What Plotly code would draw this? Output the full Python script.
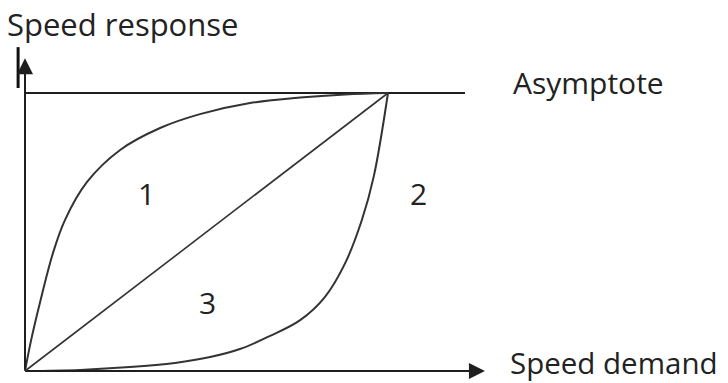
import plotly.graph_objects as go

# Data (normalised units: speed demand on x, speed response on y; 1 = asymptote)
curve1_x = [0, 0.017, 0.041, 0.077, 0.110, 0.171, 0.262, 0.372, 0.482, 0.620, 0.758, 0.882, 1.0]
curve1_y = [0, 0.112, 0.245, 0.424, 0.543, 0.680, 0.795, 0.874, 0.924, 0.964, 0.984, 0.995, 1.0]

curve3_x = [0, 0.152, 0.289, 0.413, 0.510, 0.592, 0.675, 0.758, 0.826, 0.882, 0.928, 0.961, 1.0]
curve3_y = [0, 0.004, 0.014, 0.029, 0.050, 0.079, 0.126, 0.183, 0.266, 0.388, 0.543, 0.701, 1.0]

linear_x = [0, 1.0]
linear_y = [0, 1.0]

asymptote_level = 1.0
asymptote_end = 1.212
x_axis_end = 1.267
y_axis_end = 1.125

region_labels = ["1", "2", "3"]
region_x = [0.336, 1.083, 0.504]
region_y = [0.640, 0.640, 0.248]

line_col = "#1e1e1e"
curve_col = "#333333"
font_fam = "Open Sans"
font_size = 30

fig = go.Figure()

fig.add_trace(go.Scatter(x=[0, asymptote_end], y=[asymptote_level, asymptote_level], mode="lines",
                         line=dict(color=line_col, width=1.8), hoverinfo="skip"))
fig.add_trace(go.Scatter(x=curve1_x, y=curve1_y, mode="lines",
                         line=dict(color=curve_col, width=2, shape="spline", smoothing=1.0), hoverinfo="skip"))
fig.add_trace(go.Scatter(x=curve3_x, y=curve3_y, mode="lines",
                         line=dict(color=curve_col, width=2, shape="spline", smoothing=1.0), hoverinfo="skip"))
fig.add_trace(go.Scatter(x=linear_x, y=linear_y, mode="lines", line=dict(color=curve_col, width=1.6), hoverinfo="skip"))

# axes with arrow heads
fig.add_annotation(x=x_axis_end, y=0, ax=0, ay=0, xref="x", yref="y", axref="x", ayref="y",
                   showarrow=True, arrowhead=2, arrowsize=1.6, arrowwidth=2, arrowcolor=line_col, text="")
fig.add_annotation(x=0, y=y_axis_end, ax=0, ay=0, xref="x", yref="y", axref="x", ayref="y",
                   showarrow=True, arrowhead=2, arrowsize=1.6, arrowwidth=2, arrowcolor=line_col, text="")
# small stray stroke beside the y-axis arrow, as in the source drawing
fig.add_shape(type="line", xref="x", yref="y", x0=-0.019, x1=-0.019, y0=1.018, y1=1.165,
              line=dict(color="#111", width=3))

for t, xx, yy in zip(region_labels, region_x, region_y):
    fig.add_annotation(x=xx, y=yy, text=t, showarrow=False, xref="x", yref="y",
                       font=dict(family=font_fam, size=font_size, color="#222"))

fig.add_annotation(x=6/728, y=1-24/383, xref="paper", yref="paper", xanchor="left", yanchor="middle",
                   text="Speed response", showarrow=False, borderpad=0,
                   font=dict(family=font_fam, size=31, color="#222"))
fig.add_annotation(x=511/728, y=1-83/383, xref="paper", yref="paper", xanchor="left", yanchor="middle",
                   text="Asymptote", showarrow=False, font=dict(family=font_fam, size=font_size, color="#222"))
fig.add_annotation(x=719/728, y=1-362/383, xref="paper", yref="paper", xanchor="right", yanchor="middle",
                   text="Speed demand", showarrow=False, borderpad=0,
                   font=dict(family=font_fam, size=29.5, color="#222"))

fig.update_layout(
    width=728, height=383, margin=dict(l=0, r=0, t=0, b=0),
    paper_bgcolor="white", plot_bgcolor="white", showlegend=False,
    xaxis=dict(range=[-25/363, 703/363], visible=False, fixedrange=True),
    yaxis=dict(range=[-12/278, 1 + 93/278], visible=False, fixedrange=True),
)

fig.write_html("out.html", config={"displayModeBar": False},
               post_script="document.body.style.margin='0';document.body.style.overflow='hidden';")
